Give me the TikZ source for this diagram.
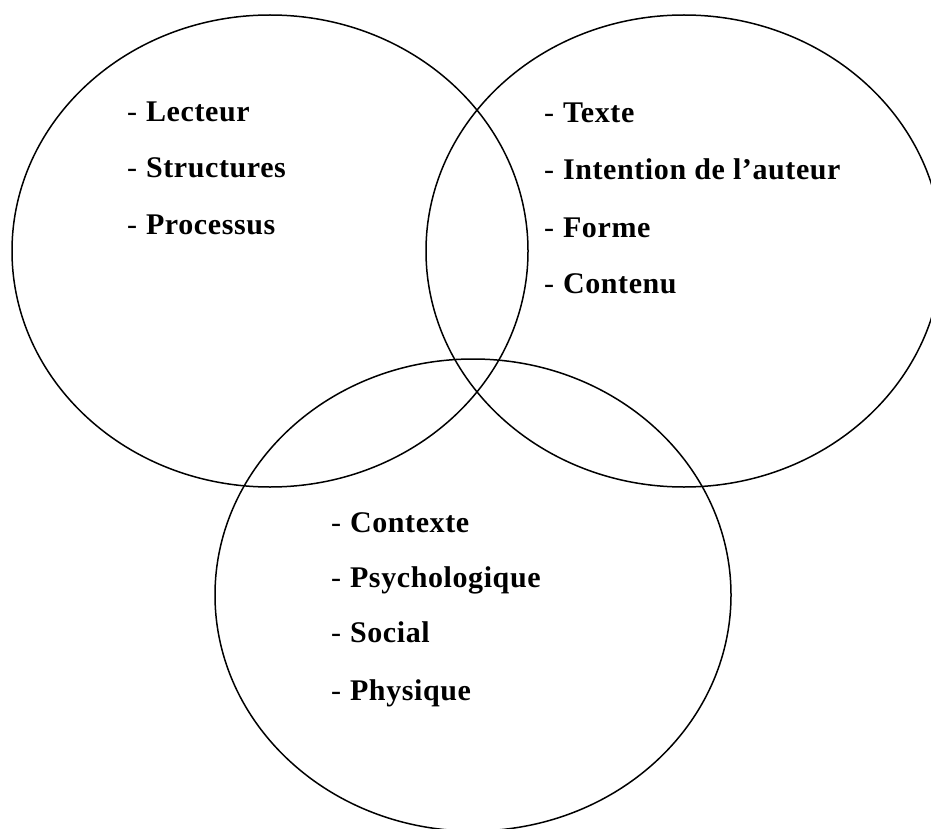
\documentclass[tikz,border=0pt]{standalone}
\usepackage{fontspec}
\setmainfont{Liberation Serif}
\newfontfamily\itemfont[LetterSpace=2]{Liberation Serif}
\begin{document}
\begin{tikzpicture}[x=1pt,y=-1pt,
  ring/.style={draw,line width=1.5pt},
  item/.style={anchor=base west,inner sep=0pt,outer sep=0pt,font=\itemfont\fontsize{30}{34}\selectfont}]
\useasboundingbox (0,0) rectangle (931,829);
\clip (0,0) rectangle (931,829);
\draw[ring] (270,251) ellipse [x radius=258, y radius=236];
\draw[ring] (684,251) ellipse [x radius=258, y radius=236];
\draw[ring] (473,595) ellipse [x radius=258, y radius=236];
% left
\node[item] (l1) at (127,122) {-\hspace{8.5pt}\textbf{Lecteur}};
\node[item] (l2) at (127,178) {-\hspace{8.5pt}\textbf{Structures}};
\node[item] (l3) at (127,234) {-\hspace{8.5pt}\textbf{Processus}};
% right
\node[item] (r1) at (544,123) {-\hspace{8.5pt}\textbf{Texte}};
\node[item] (r2) at (544,180) {-\hspace{8.5pt}\textbf{Intention de l’auteur}};
\node[item] (r3) at (544,237) {-\hspace{8.5pt}\textbf{Forme}};
\node[item] (r4) at (544,293) {-\hspace{8.5pt}\textbf{Contenu}};
% bottom
\node[item] (b1) at (331,532) {-\hspace{8.5pt}\textbf{Contexte}};
\node[item] (b2) at (331,587) {-\hspace{8.5pt}\textbf{Psychologique}};
\node[item] (b3) at (331,642) {-\hspace{8.5pt}\textbf{Social}};
\node[item] (b4) at (331,700) {-\hspace{8.5pt}\textbf{Physique}};
\end{tikzpicture}
\end{document}
